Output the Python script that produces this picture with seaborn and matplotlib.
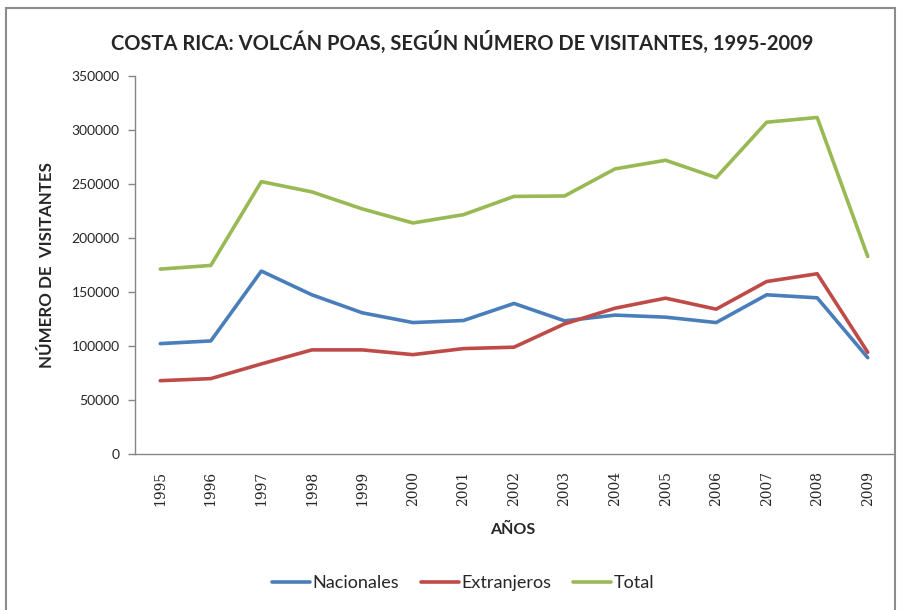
"""
Costa Rica: Volcán Poás visitors by year, 1995-2009
"""
import pandas as pd
import seaborn as sns
import matplotlib.pyplot as plt
from matplotlib.patches import Rectangle

# Data
years = list(range(1995, 2010))
nacionales = [102200, 104700, 169400, 147400, 130700, 121700, 123600, 139400,
              123300, 128600, 126700, 121700, 147400, 144600, 89200]
extranjeros = [67900, 69800, 83400, 96400, 96400, 92000, 97600, 98900,
               120500, 135000, 144300, 134100, 159700, 166900, 94200]
total = [171200, 174600, 252200, 242700, 226900, 213900, 221600, 238500,
         238900, 264000, 272000, 255900, 307200, 311600, 182900]

series_names = ['Nacionales', 'Extranjeros', 'Total']
colors = ['#4A7EBB', '#BE4B48', '#98B954']

df = pd.DataFrame({'year': years, 'Nacionales': nacionales,
                   'Extranjeros': extranjeros, 'Total': total})
long_df = df.melt(id_vars='year', var_name='serie', value_name='visitantes')

sns.set_theme(style="white")
plt.rcParams['font.family'] = ['Lato', 'DejaVu Sans']

fig = plt.figure(figsize=(9.04, 6.10), dpi=100)
ax = fig.add_axes([135 / 904, 1 - 454 / 610, (893 - 135) / 904, (454 - 76) / 610])

sns.lineplot(data=long_df, x='year', y='visitantes', hue='serie',
             hue_order=series_names, palette=colors, linewidth=2.6, ax=ax,
             legend=False)

ax.set_xlim(1994.5, 2009.5)
ax.set_ylim(0, 350000)
ax.set_yticks(range(0, 350001, 50000))
ax.set_yticklabels([str(v) for v in range(0, 350001, 50000)], fontsize=10)
ax.set_xticks(years)
ax.set_xticklabels([str(y) for y in years], rotation=90, fontsize=10,
                   family='DejaVu Serif')
ax.tick_params(axis='y', length=5, width=1, color='#868686', direction='out',
               pad=6, left=True)
ax.tick_params(axis='x', length=0, pad=12)
for side in ['top', 'right']:
    ax.spines[side].set_visible(False)
for side in ['left', 'bottom']:
    ax.spines[side].set_color('#868686')
    ax.spines[side].set_linewidth(1)
ax.set_xlabel('')
ax.set_ylabel('')

fig.text(0.511, 1 - 42 / 610, 'COSTA RICA: VOLCÁN POAS, SEGÚN NÚMERO DE VISITANTES, 1995-2009',
         ha='center', va='center', fontsize=14.5, fontweight='bold')
fig.text(47 / 904, 1 - 265 / 610, 'NÚMERO DE  VISITANTES', rotation=90,
         ha='center', va='center', fontsize=12.2, fontweight='bold')
fig.text(513 / 904, 1 - 530 / 610, 'AÑOS', ha='center', va='center',
         fontsize=11.5, fontweight='bold')

handles = [plt.Line2D([], [], color=c, lw=2.6) for c in colors]
fig.legend(handles, series_names, loc='center', bbox_to_anchor=(463 / 904, 1 - 583 / 610),
           ncol=3, frameon=False, fontsize=13, handlelength=2.1, handletextpad=0.15,
           columnspacing=1.2)

fig.patches.append(Rectangle((6 / 904, -0.05), (895 - 6) / 904, 1.05 - 8 / 610,
                             transform=fig.transFigure, fill=False,
                             edgecolor='#8C8C8C', linewidth=1.5))

fig.savefig('out.png', dpi=100)
